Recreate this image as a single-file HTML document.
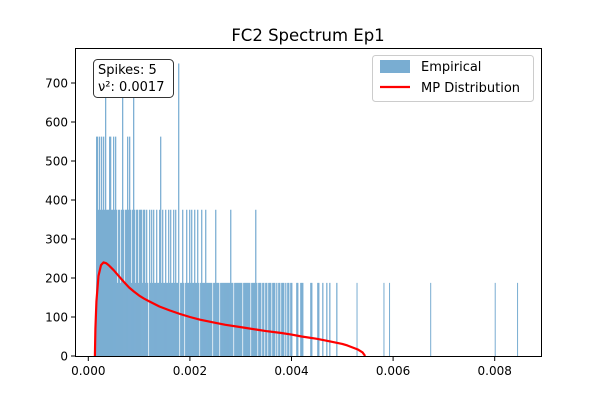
<!DOCTYPE html>
<html><head><meta charset="utf-8"><style>
body{margin:0;background:#fff;}
svg{display:block;font-family:"DejaVu Sans","Liberation Sans",sans-serif;}
</style></head><body>
<svg id="chart" width="600" height="400">
<rect x="0" y="0" width="600" height="400" fill="#fff"/>
<text x="308" y="41" text-anchor="middle" font-size="16.5">FC2 Spectrum Ep1</text>
<g id="bars"></g>
<g id="outliers"></g>
<path id="mp" fill="none" stroke="#f00" stroke-width="2.2" stroke-linejoin="round"/>
<rect x="75.5" y="48.5" width="466" height="308" fill="none" stroke="#000" stroke-width="1"/>
<g id="yticks"></g>
<g id="xticks"></g>
<g>
<rect x="93.5" y="59.5" width="80" height="38" rx="4" fill="#fff" stroke="#333" stroke-width="1"/>
<text x="98" y="74" font-size="13">Spikes: 5</text>
<text x="98" y="91" font-size="13">ν²: 0.0017</text>
</g>
<g>
<rect x="372.5" y="55.5" width="161" height="46" rx="3" fill="#fff" fill-opacity="0.8" stroke="#ccc"/>
<rect x="380" y="60" width="30" height="13" fill="rgb(121,173,210)"/>
<text x="421" y="71" font-size="13">Empirical</text>
<line x1="380" y1="87" x2="410" y2="87" stroke="#f00" stroke-width="2.2"/>
<text x="421" y="92" font-size="13">MP Distribution</text>
</g>
</svg>
<script>
const binStart = 0.000152;
const binWidth = 0.0000197;
const densityPerCount = 187.5;
const binCounts = [
3,3,2,3,2,3,2,3,2,4, 2,2,2,3,3,2,2,3,2,3, 2,1,2,2,1,2,4,2,1,2, 2,3,2,3,2,1,2,4,2,1,
2,2,1,2,2,2,1,2,2,1, 2,1,0,2,1,2,1,2,1,1, 2,1,1,2,3,1,2,1,1,2, 1,1,2,1,2,1,1,2,1,2,
1,1,4,0,1,1,2,1,0,1, 2,1,1,2,1,2,1,1,2,1, 1,2,1,0,1,2,1,1,1,2, 1,1,1,1,1,1,0,1,1,2,
1,1,1,0,1,1,1,1,1,1, 1,1,1,1,2,1,1,0,1,1, 1,1,1,1,1,1,0,1,1,1, 1,1,1,1,0,1,1,1,1,2,
1,0,1,1,1,0,1,1,0,1, 1,0,1,1,1,0,1,1,1,0, 1,0,1,1,0,1,1,1,0,1, 0,1,1,0,1,1,0,0,0,0,
1,1,0,0,1,1,1,0,0,0, 0,0,0,0,1,1,0,0,0,0, 0,1,1,0,0,0,1,0,0,0, 1,0,0,1,0,0,0,0,0,0,
1,0,0,0,0];
const outlierValues = [0.00529, 0.00582, 0.00593, 0.00674, 0.00801, 0.00845];
const outlierCounts = [1, 1, 1, 1, 1, 1];
const mpX = [0.00013,0.00014,0.00016,0.0002,0.00025,0.0003,0.00035,0.0004,0.0005,0.0006,0.0007,0.0008,0.0009,0.001,0.0011,0.0012,0.0014,0.0016,0.0018,0.002,0.0022,0.0025,0.0027,0.003,0.0033,0.0035,0.0038,0.004,0.0042,0.0045,0.0047,0.005,0.0051,0.0053,0.0054,0.00545];
const mpY = [0,70,140,205,233,240,238,233,220,205,190,176,165,155,147,140,127,117,108,100,93,85,80,74,68,64,59,55,50,44,39,31,27,17,9,0];
const yTicks = [0,100,200,300,400,500,600,700];
const xTicks = [0,0.002,0.004,0.006,0.008];
const xTickLabels = ["0.000","0.002","0.004","0.006","0.008"];

const NS = "http://www.w3.org/2000/svg";
const xs = v => 88.3 + v * 50800;
const ys = v => 356 - v * 0.39;
const fill = "rgb(121,173,210)";

const barsG = document.getElementById('bars');
binCounts.forEach((c, i) => {
  if (!c) return;
  const x0 = xs(binStart + i * binWidth), x1 = xs(binStart + (i + 1) * binWidth);
  const r = document.createElementNS(NS, 'rect');
  
  
  r.setAttribute('x', x0);
  r.setAttribute('width', x1 - x0 + 0.25);
  r.setAttribute('y', ys(c * densityPerCount));
  r.setAttribute('height', 356 - ys(c * densityPerCount));
  r.setAttribute('fill', fill);
  barsG.appendChild(r);
});
const outG = document.getElementById('outliers');
outlierValues.forEach((v, i) => {
  const x0 = xs(v - binWidth / 2), x1 = xs(v + binWidth / 2);
  const r = document.createElementNS(NS, 'rect');
  
  
  r.setAttribute('x', x0);
  r.setAttribute('width', x1 - x0);
  r.setAttribute('y', ys(outlierCounts[i] * densityPerCount));
  r.setAttribute('height', 356 - ys(outlierCounts[i] * densityPerCount));
  r.setAttribute('fill', fill);
  outG.appendChild(r);
});
document.getElementById('mp').setAttribute('d', mpX.map((x, i) => (i ? 'L' : 'M') + xs(x).toFixed(2) + ' ' + ys(mpY[i]).toFixed(2)).join(' '));

const yG = document.getElementById('yticks');
yTicks.forEach(t => {
  const y = ys(t);
  const l = document.createElementNS(NS, 'line');
  
  
  l.setAttribute('x1', 71); l.setAttribute('x2', 75.5);
  l.setAttribute('y1', y); l.setAttribute('y2', y);
  l.setAttribute('stroke', '#000');
  yG.appendChild(l);
  const tx = document.createElementNS(NS, 'text');
  
  
  tx.setAttribute('x', 68); tx.setAttribute('y', y + 4.5);
  tx.setAttribute('text-anchor', 'end'); tx.setAttribute('font-size', '12');
  tx.textContent = t;
  yG.appendChild(tx);
});
const xG = document.getElementById('xticks');
xTicks.forEach((t, i) => {
  const x = xs(t);
  const l = document.createElementNS(NS, 'line');
  
  
  l.setAttribute('x1', x); l.setAttribute('x2', x);
  l.setAttribute('y1', 356.5); l.setAttribute('y2', 361);
  l.setAttribute('stroke', '#000');
  xG.appendChild(l);
  const tx = document.createElementNS(NS, 'text');
  
  
  tx.setAttribute('x', x); tx.setAttribute('y', 375);
  tx.setAttribute('text-anchor', 'middle'); tx.setAttribute('font-size', '12');
  tx.textContent = xTickLabels[i];
  xG.appendChild(tx);
});
</script>
</body></html>
